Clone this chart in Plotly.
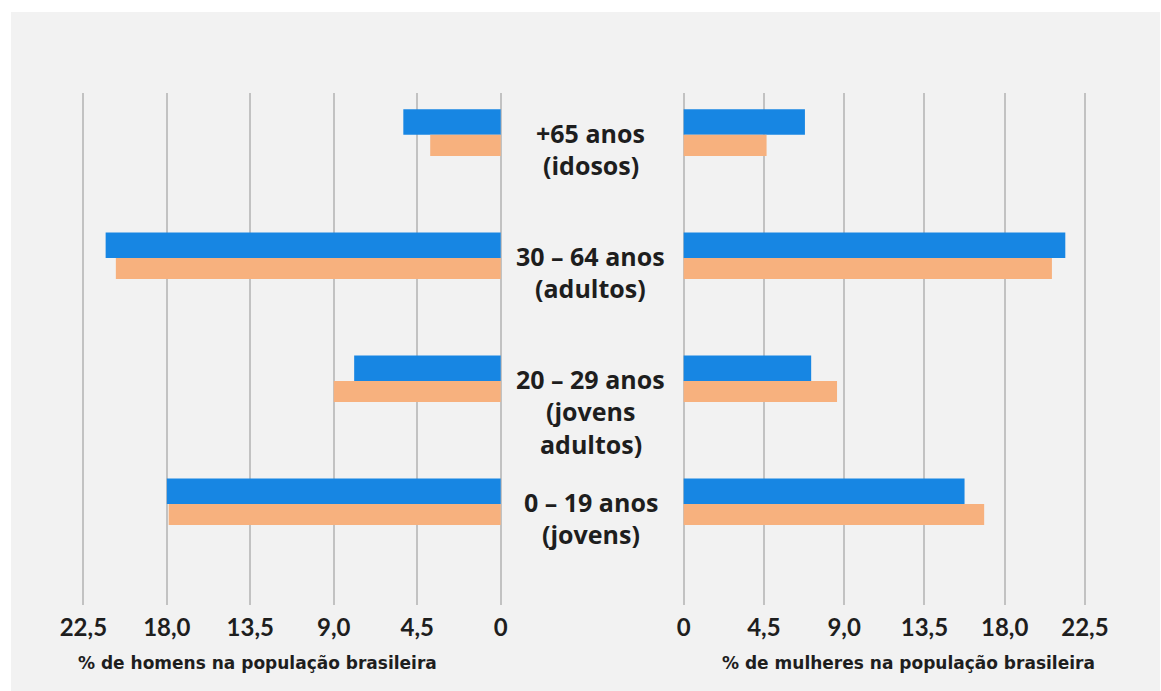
import plotly.graph_objects as go

# Faixas etárias (de baixo para cima)
faixas = [
    "0 – 19 anos<br>(jovens)",
    "20 – 29 anos<br>(jovens<br>adultos)",
    "30 – 64 anos<br>(adultos)",
    "+65 anos<br>(idosos)",
]

# % de homens na população brasileira
homens_azul = [18.0, 7.9, 21.3, 5.25]
homens_laranja = [17.9, 9.0, 20.75, 3.8]

# % de mulheres na população brasileira
mulheres_azul = [15.75, 7.15, 21.4, 6.8]
mulheres_laranja = [16.85, 8.6, 20.65, 4.65]

ticks_esq = [22.5, 18.0, 13.5, 9.0, 4.5, 0]
ticks_esq_txt = ["22,5", "18,0", "13,5", "9,0", "4,5", "0"]
ticks_dir = [0, 4.5, 9.0, 13.5, 18.0, 22.5]
ticks_dir_txt = ["0", "4,5", "9,0", "13,5", "18,0", "22,5"]

titulo_esq = "% de homens na população brasileira"
titulo_dir = "% de mulheres na população brasileira"

W, H = 1161, 691
AZUL = "#1786e3"
LARANJA = "#f7b17e"
TXT = "#1e1e1e"
GRID = "#c2c2c2"

w_azul, w_laranja = 0.207, 0.171

fig = go.Figure()
for xa, va, vl in (("x", homens_azul, homens_laranja), ("x2", mulheres_azul, mulheres_laranja)):
    fig.add_trace(go.Bar(y=faixas, x=va, orientation="h", xaxis=xa, yaxis="y",
                         marker=dict(color=AZUL, line=dict(width=0)),
                         width=w_azul, offset=0, showlegend=False, hoverinfo="x"))
    fig.add_trace(go.Bar(y=faixas, x=vl, orientation="h", xaxis=xa, yaxis="y",
                         marker=dict(color=LARANJA, line=dict(width=0)),
                         width=w_laranja, offset=-w_laranja, showlegend=False, hoverinfo="x"))

tickfont = dict(family="Lato", size=24, weight="bold", color=TXT)
eixo = dict(showgrid=True, gridcolor=GRID, gridwidth=1.5, zeroline=False,
            showline=False, ticks="", tickfont=tickfont, ticklabelstandoff=6,
            fixedrange=True)

fig.update_layout(
    width=W, height=H,
    margin=dict(l=0, r=0, t=0, b=0),
    paper_bgcolor="white",
    plot_bgcolor="rgba(0,0,0,0)",
    barmode="overlay",
    xaxis=dict(domain=[60 / W, 505 / W], range=[23.61, -0.30], anchor="y",
               tickvals=ticks_esq, ticktext=ticks_esq_txt, **eixo),
    xaxis2=dict(domain=[678 / W, 1110 / W], range=[-0.28, 23.86], anchor="y",
                tickvals=ticks_dir, ticktext=ticks_dir_txt, **eixo),
    yaxis=dict(type="category", categoryorder="array", categoryarray=faixas,
               domain=[1 - 605 / H, 1 - 93 / H], range=[-0.821, 3.34],
               showticklabels=False, showgrid=False, zeroline=False,
               showline=False, fixedrange=True),
    shapes=[dict(type="rect", xref="paper", yref="paper",
                 x0=8 / W, x1=1, y0=0, y1=1 - 12 / H,
                 fillcolor="#f2f2f2", line=dict(width=0), layer="below")],
)

# Rótulos das faixas etárias no centro, linha a linha
for f in faixas:
    for i, linha in enumerate(f.split("<br>")):
        fig.add_annotation(x=590 / W, xref="paper", y=f, yref="y",
                           text=linha, showarrow=False,
                           xanchor="center", yanchor="middle",
                           yshift=2 - 32.5 * i,
                           font=dict(family="Open Sans", size=25,
                                     weight="bold", color=TXT))

# Títulos dos eixos
for x, t in ((255, titulo_esq), (909, titulo_dir)):
    fig.add_annotation(x=x / W, xref="paper", y=1 - 663 / H, yref="paper",
                       text=t, showarrow=False, xanchor="center", yanchor="middle",
                       font=dict(family="DejaVu Sans", size=17, weight="bold",
                                 color=TXT))

fig.write_html("out.html")
